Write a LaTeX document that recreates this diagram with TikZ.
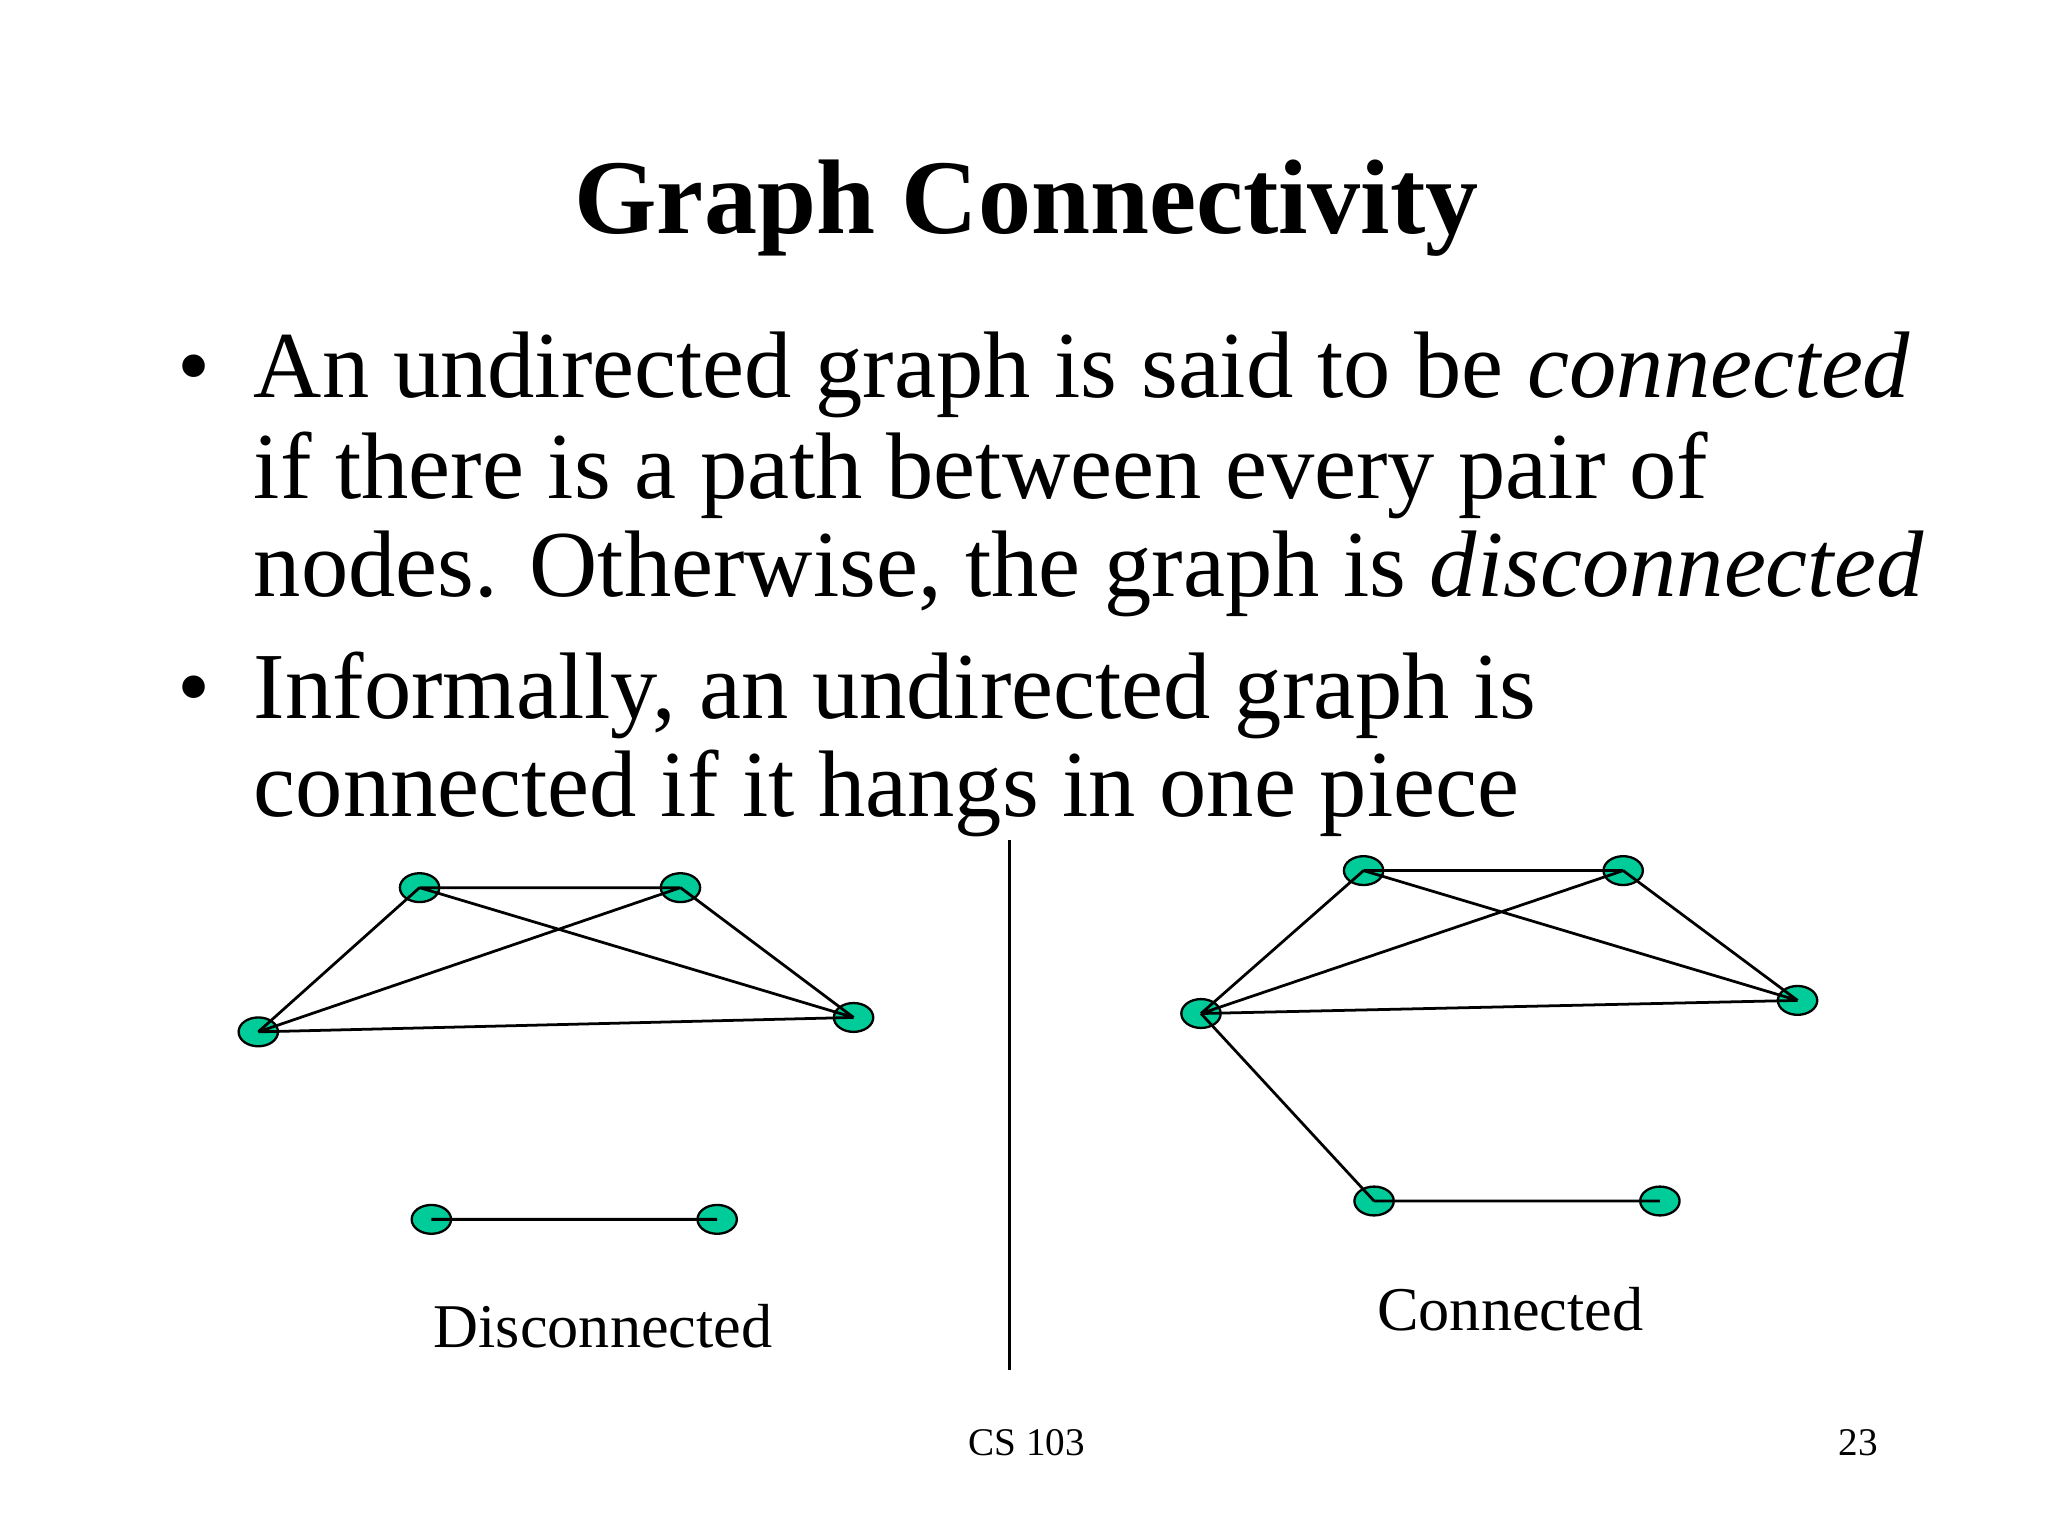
\documentclass[tikz,border=0pt]{standalone}
\usepackage{fontspec}
\setmainfont{Liberation Serif}
\usetikzlibrary{shapes.geometric}
\definecolor{nodegreen}{RGB}{0,204,153}
\begin{document}
\begin{tikzpicture}[x=0.01cm,y=-0.01cm,
  v/.style={ellipse,draw=black,fill=nodegreen,minimum width=0.3cm,minimum height=0.22cm,inner sep=0pt,line width=0.5pt},
  e/.style={line width=0.6pt},
  body/.style={anchor=base west,inner sep=0pt,font=\fontsize{20.5}{24}\selectfont}]
\useasboundingbox (0,0) rectangle (1562,1172);
\node[anchor=base,inner sep=0pt,font=\fontsize{23}{28}\selectfont\bfseries] (title) at (783,178) {Graph Connectivity};
\node[body] (b1) at (135,303) {\textbullet};
\node[body] (b2) at (135,548) {\textbullet};
\node[body] (l1) at (193,303) {An undirected graph is said to be \textit{connected}};
\node[body] (l2) at (193,380) {if there is a path between every pair of};
\node[body] (l3) at (193,455) {nodes. Otherwise, the graph is \textit{disconnected}};
\node[body] (l4) at (193,548) {Informally, an undirected graph is};
\node[body] (l5) at (193,623) {connected if it hangs in one piece};
% disconnected
\node[v] (a1) at (320,677) {};
\node[v] (a2) at (519,677) {};
\node[v] (a3) at (197,787) {};
\node[v] (a4) at (651,776) {};
\node[v] (a5) at (329,930) {};
\node[v] (a6) at (547,930) {};
\draw[e] (a1.center)--(a2.center) (a1.center)--(a4.center) (a2.center)--(a3.center)
 (a2.center)--(a4.center) (a3.center)--(a1.center) (a3.center)--(a4.center) (a5.center)--(a6.center);
% connected
\node[v] (c1) at (1040,664) {};
\node[v] (c2) at (1238,664) {};
\node[v] (c3) at (916,773) {};
\node[v] (c4) at (1371,763) {};
\node[v] (c5) at (1048,916) {};
\node[v] (c6) at (1266,916) {};
\draw[e] (c1.center)--(c2.center) (c1.center)--(c4.center) (c2.center)--(c3.center)
 (c2.center)--(c4.center) (c3.center)--(c1.center) (c3.center)--(c4.center)
 (c3.center)--(c5.center) (c5.center)--(c6.center);
\coordinate (d1) at (770,641); \coordinate (d2) at (770,1045);
\draw[line width=0.8pt] (d1)--(d2);
\node[anchor=base,inner sep=0pt,font=\fontsize{13.5}{16}\selectfont] (dl) at (460,1028) {Disconnected};
\node[anchor=base,inner sep=0pt,font=\fontsize{13.5}{16}\selectfont] (cl) at (1152,1015) {Connected};
\node[anchor=base,inner sep=0pt,font=\fontsize{8.5}{10}\selectfont] (f1) at (783,1110) {CS 103};
\node[anchor=base east,inner sep=0pt,font=\fontsize{8.5}{10}\selectfont] (f2) at (1433,1110) {23};
\end{tikzpicture}
\end{document}
